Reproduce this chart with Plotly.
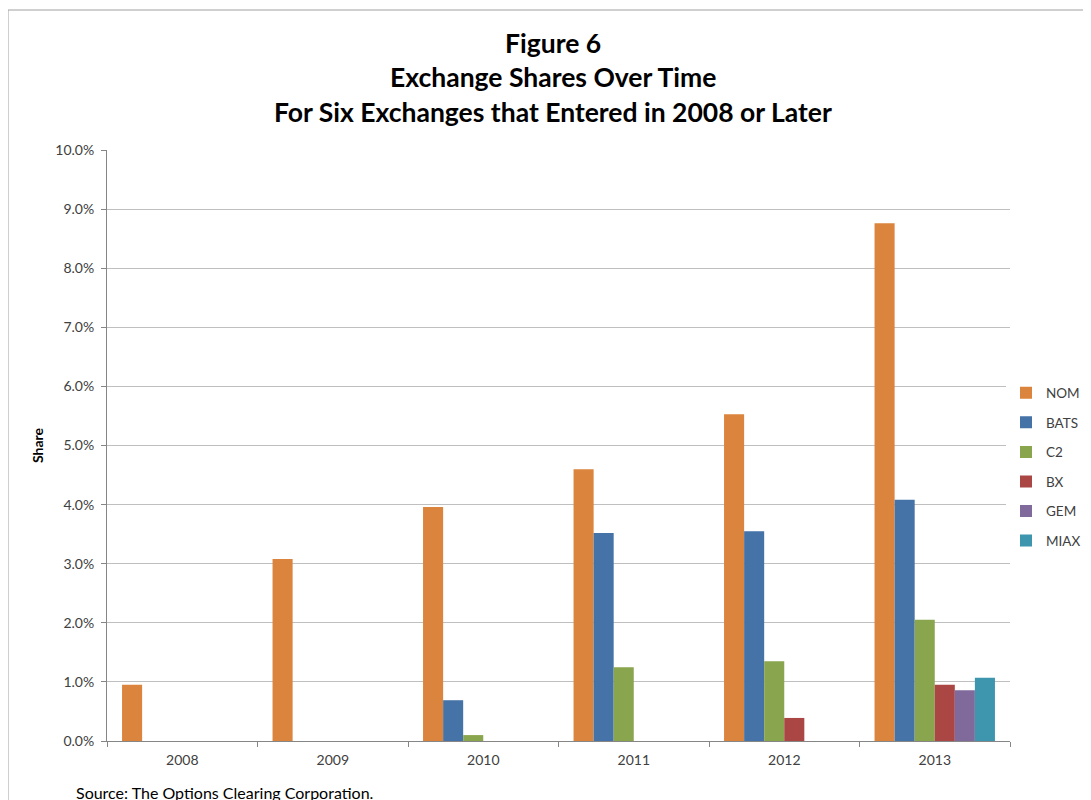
import plotly.graph_objects as go

years = ["2008", "2009", "2010", "2011", "2012", "2013"]
nom = [0.95, 3.08, 3.96, 4.60, 5.53, 8.76]
bats = [None, None, 0.69, 3.52, 3.55, 4.08]
c2 = [None, None, 0.10, 1.25, 1.35, 2.05]
bx = [None, None, None, None, 0.39, 0.95]
gem = [None, None, None, None, None, 0.86]
miax = [None, None, None, None, None, 1.07]

series = [
    ("NOM", nom, "#DB843D"),
    ("BATS", bats, "#4572A7"),
    ("C2", c2, "#89A54E"),
    ("BX", bx, "#AA4643"),
    ("GEM", gem, "#80699B"),
    ("MIAX", miax, "#3D96AE"),
]

FONT = "Lato, 'Open Sans', sans-serif"

fig = go.Figure()
for name, vals, col in series:
    fig.add_trace(go.Bar(x=years, y=vals, name=name, marker_color=col,
                         marker_line_width=0, legendgroup=name))

W, H = 1091, 800
OFF = 8  # page body margin offset
L, R, T, B = 107 - OFF, 89, 150 - OFF, 67
pw, ph = W - L - R, H - T - B

def px(x):
    return (x - OFF - L) / pw

def py(y):
    return (H - B - (y - OFF)) / ph

fig.update_layout(
    width=W, height=H,
    margin=dict(l=L, r=R, t=T, b=B, autoexpand=False),
    paper_bgcolor="white", plot_bgcolor="white",
    barmode="group", bargap=0.2, bargroupgap=0,
    font=dict(family=FONT, size=14, color="#404040"),
    showlegend=True,
    legend=dict(x=px(1006), y=py(467), xanchor="left", yanchor="middle",
                font=dict(size=13.5, color="#404040"), tracegroupgap=9,
                itemwidth=30, traceorder="grouped"),
    xaxis=dict(type="category", showline=True, linecolor="#868686",
               ticks="outside", tickson="boundaries", ticklen=5,
               tickcolor="#868686", showgrid=False, ticklabelstandoff=6,
               tickfont=dict(size=14, color="#404040")),
    yaxis=dict(range=[0, 10], dtick=1, tickformat=".1f", ticksuffix="%",
               showline=True, linecolor="#868686", ticks="outside",
               ticklen=5, tickcolor="#868686", gridcolor="#BFBFBF",
               zeroline=False, ticklabelstandoff=4,
               title=dict(text="<b>Share</b>", font=dict(size=14, color="#000000"), standoff=8),
               tickfont=dict(size=14, color="#404040")),
)

titles = [("Figure 6", 43), ("Exchange Shares Over Time", 77),
          ("For Six Exchanges that Entered in 2008 or Later", 112)]
for txt, yy in titles:
    fig.add_annotation(text="<b>" + txt + "</b>", x=px(553), y=py(yy),
                       xref="paper", yref="paper", showarrow=False,
                       xanchor="center", yanchor="middle",
                       font=dict(size=26.5, color="#000000", family=FONT))

fig.add_annotation(text="Source: The Options Clearing Corporation.",
                   x=px(74), y=py(792), xref="paper", yref="paper",
                   showarrow=False, xanchor="left", yanchor="middle",
                   font=dict(size=16, color="#000000", family=FONT))

fig.add_shape(type="rect", xref="paper", yref="paper",
              x0=px(8), y0=py(812), x1=px(1110), y1=py(10),
              line=dict(color="#A0A0A0", width=1), fillcolor="rgba(0,0,0,0)")

fig.write_html("out.html")
